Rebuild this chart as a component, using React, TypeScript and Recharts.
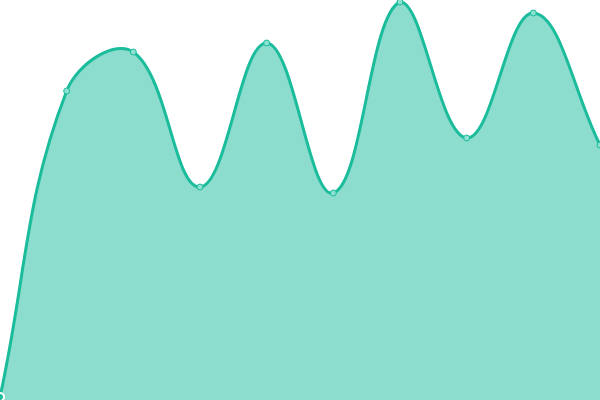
import { AreaChart, Area, XAxis, YAxis } from 'recharts'

const labels = ['A', 'B', 'C', 'D', 'E', 'F', 'G', 'H', 'I', 'J']
const values = [3, 309, 348, 213, 357, 207, 398, 262, 387, 255]

const data = labels.map((label, i) => ({ label, value: values[i] }))

// spline with distance-weighted control points (tension 0.4), control points capped to the plot
const splineCurve = (tension: number, w: number, h: number) => (context: any) => {
  let pts: [number, number][] = []
  let line = NaN
  const cap = (v: number, max: number) => Math.max(0, Math.min(max, v))
  return {
    areaStart() {
      line = 0
    },
    areaEnd() {
      line = NaN
    },
    lineStart() {
      pts = []
    },
    lineEnd() {
      const n = pts.length
      if (n) {
        if (line) context.lineTo(pts[0][0], pts[0][1])
        else context.moveTo(pts[0][0], pts[0][1])
        const cps = pts.map((p, i) => {
          const prev = pts[Math.max(0, i - 1)]
          const next = pts[Math.min(n - 1, i + 1)]
          const d01 = Math.hypot(p[0] - prev[0], p[1] - prev[1])
          const d12 = Math.hypot(next[0] - p[0], next[1] - p[1])
          const sum = d01 + d12 || 1
          const fa = (tension * d01) / sum
          const fb = (tension * d12) / sum
          const dx = next[0] - prev[0]
          const dy = next[1] - prev[1]
          return {
            px: cap(p[0] - fa * dx, w),
            py: cap(p[1] - fa * dy, h),
            nx: cap(p[0] + fb * dx, w),
            ny: cap(p[1] + fb * dy, h),
          }
        })
        for (let i = 1; i < n; i++) {
          context.bezierCurveTo(cps[i - 1].nx, cps[i - 1].ny, cps[i].px, cps[i].py, pts[i][0], pts[i][1])
        }
      }
      if (line || (line !== 0 && n === 1)) context.closePath()
      line = 1 - line
    },
    point(x: number, y: number) {
      pts.push([+x, +y])
    },
  }
}

const curve = splineCurve(0.4, 600, 400)

export default function App() {
  return (
    <div style={{ position: 'absolute', left: 0, top: 0, width: 600, height: 400, background: '#fff' }}>
      <AreaChart width={600} height={400} data={data} margin={{ top: 0, right: 0, bottom: 0, left: 0 }}>
        <XAxis dataKey="label" hide padding={{ left: 0, right: 0 }} />
        <YAxis hide domain={[0, 400]} />
        <Area
          type={curve as any}
          dataKey="value"
          stroke="#1abc9c"
          strokeWidth={3}
          fill="#1abc9c"
          fillOpacity={0.5}
          dot={{ r: 3, fill: '#8ce0cf', stroke: '#1abc9c', strokeWidth: 1, fillOpacity: 1 }}
          isAnimationActive={false}
        />
      </AreaChart>
    </div>
  )
}
